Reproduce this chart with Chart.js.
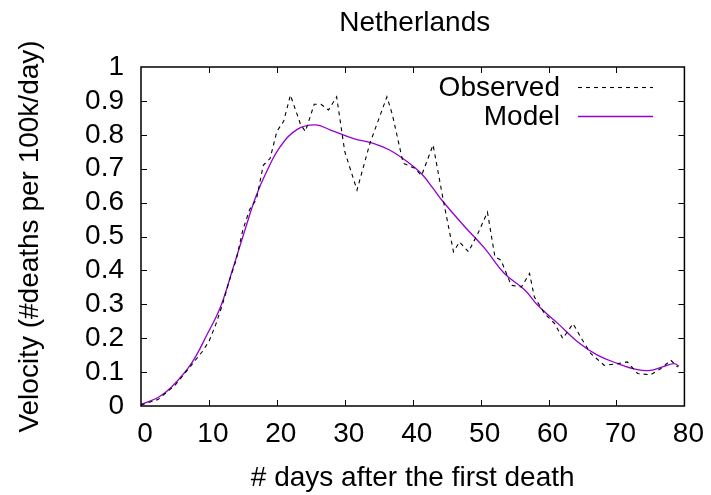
<!DOCTYPE html>
<html>
<head>
<meta charset="utf-8">
<script src="https://cdn.jsdelivr.net/npm/chart.js@4/dist/chart.umd.min.js"></script>
<style>
  html, body { margin: 0; padding: 0; background: #fff; }
  #wrap { width: 711px; height: 495px; }
</style>
</head>
<body>
<div id="wrap"><canvas id="chart"></canvas></div>
<script>
  // Daily death velocity, Netherlands (days after the first death)
  const chartTitle = "Netherlands";
  const observedDays = [0, 2.5, 5, 7, 9, 10, 11, 12, 13, 14, 15, 16, 17, 18, 19, 20, 21, 22, 23.5, 24.2,
    25.5, 26.5, 27.6, 28.8, 30, 31.8, 33.7, 36.2, 37, 38.6, 40.3, 41.3, 43, 44.5, 46, 46.9, 48.2, 49.6,
    51, 52.1, 53, 54.5, 56, 57.2, 57.9, 59.4, 60.9, 62.1, 63.6, 65, 66.2, 68.2, 70.2, 71.6, 73.1, 75,
    76.5, 78, 79];
  const observedValues = [0.003, 0.019, 0.061, 0.11, 0.16, 0.19, 0.24, 0.30, 0.37, 0.43, 0.52, 0.58, 0.61,
    0.71, 0.73, 0.81, 0.84, 0.917, 0.83, 0.81, 0.89, 0.89, 0.873, 0.912, 0.75, 0.637, 0.775, 0.912, 0.86,
    0.716, 0.701, 0.68, 0.77, 0.607, 0.455, 0.484, 0.455, 0.509, 0.572, 0.44, 0.43, 0.356, 0.351, 0.391,
    0.322, 0.273, 0.243, 0.199, 0.243, 0.194, 0.155, 0.12, 0.125, 0.13, 0.096, 0.092, 0.11, 0.135, 0.115];
  const modelDays = [0, 2.5, 4.5, 7.4, 9.8, 11.7, 13.6, 15.3, 16.9, 18.6, 20.5, 23, 25.7, 27.9, 31.3,
    34.2, 36.6, 39.5, 41.3, 43, 44.3, 47.7, 50.6, 53.5, 56.5, 58.4, 61.4, 64.3, 67.2, 70.2, 73.1, 75,
    77, 78.5, 79.2];
  const modelValues = [0.005, 0.025, 0.056, 0.125, 0.214, 0.292, 0.41, 0.519, 0.617, 0.696, 0.765,
    0.816, 0.829, 0.814, 0.789, 0.775, 0.755, 0.716, 0.685, 0.642, 0.607, 0.528, 0.465, 0.391, 0.342,
    0.297, 0.243, 0.189, 0.150, 0.125, 0.107, 0.105, 0.117, 0.125, 0.117];
  const xTicks = [0, 10, 20, 30, 40, 50, 60, 70, 80];
  const yTicks = [0, 0.1, 0.2, 0.3, 0.4, 0.5, 0.6, 0.7, 0.8, 0.9, 1];

  const FONT = "'Liberation Sans', Arial, Helvetica, sans-serif";
  const FSIZE = 28;

  function pairs(xs, ys) {
    return xs.map(function(x, i) { return { x: x, y: ys[i] }; });
  }

  // frame, inward ticks on all four sides, title and key (gnuplot look)
  const framePlugin = {
    id: "frame",
    afterDatasetsDraw(chart) {
      const ctx = chart.ctx;
      const a = chart.chartArea;
      const xs = chart.scales.x, ys = chart.scales.y;
      const tl = 6;
      ctx.save();
      ctx.strokeStyle = "#000";
      ctx.lineWidth = 1;
      ctx.beginPath();
      xTicks.slice(1, -1).forEach(function(v) {
        const px = Math.round(xs.getPixelForValue(v)) + 0.5;
        ctx.moveTo(px, a.bottom); ctx.lineTo(px, a.bottom - tl);
        ctx.moveTo(px, a.top); ctx.lineTo(px, a.top + tl);
      });
      yTicks.slice(1, -1).forEach(function(v) {
        const py = Math.round(ys.getPixelForValue(v)) + 0.5;
        ctx.moveTo(a.left, py); ctx.lineTo(a.left + tl, py);
        ctx.moveTo(a.right, py); ctx.lineTo(a.right - tl, py);
      });
      ctx.stroke();
      ctx.lineWidth = 1.5;
      ctx.strokeRect(a.left, a.top, a.right - a.left, a.bottom - a.top);

      // title
      ctx.fillStyle = "#000";
      ctx.font = FSIZE + "px " + FONT;
      ctx.textAlign = "center";
      ctx.textBaseline = "middle";
      ctx.fillText(chartTitle, (a.left + a.right) / 2 + 2, 23);

      // key
      const keyX = 560, lineX0 = 578, lineX1 = 653;
      const rows = [87, 116];
      ctx.textAlign = "right";
      chart.data.datasets.forEach(function(ds, i) {
        ctx.fillStyle = "#000";
        ctx.fillText(ds.label, keyX, rows[i] + 1);
        ctx.beginPath();
        ctx.strokeStyle = ds.borderColor;
        ctx.lineWidth = ds.borderWidth;
        ctx.setLineDash(ds.borderDash || []);
        ctx.moveTo(lineX0, rows[i] + 0.5);
        ctx.lineTo(lineX1, rows[i] + 0.5);
        ctx.stroke();
      });
      ctx.restore();
    }
  };

  new Chart(document.getElementById("chart"), {
    type: "line",
    data: {
      datasets: [
        {
          label: "Observed",
          data: pairs(observedDays, observedValues),
          borderColor: "#000",
          borderWidth: 1.1,
          borderDash: [4, 4],
          pointRadius: 0,
          tension: 0,
          fill: false
        },
        {
          label: "Model",
          data: pairs(modelDays, modelValues),
          borderColor: "#9400d3",
          borderWidth: 1.3,
          pointRadius: 0,
          tension: 0.4,
          fill: false
        }
      ]
    },
    options: {
      responsive: true, maintainAspectRatio: false, animation: false,
      layout: { padding: { top: 67, right: 24, left: 0, bottom: 0 } },
      plugins: { legend: { display: false }, tooltip: { enabled: false }, title: { display: false } },
      scales: {
        x: {
          type: "linear", min: 0, max: 80,
          afterFit: function(s) { s.height = 89; },
          afterBuildTicks: function(s) { s.ticks = xTicks.map(function(v) { return { value: v }; }); },
          grid: { display: false, drawTicks: false },
          border: { display: false },
          ticks: {
            color: "#000", font: { family: FONT, size: FSIZE }, padding: 11, labelOffset: 4,
            maxRotation: 0, autoSkip: false
          },
          title: {
            display: true, text: "# days after the first death", color: "#000",
            font: { family: FONT, size: FSIZE }, padding: { top: 0, bottom: 0 }
          }
        },
        y: {
          min: 0, max: 1,
          afterFit: function(s) { s.width = 141; },
          afterBuildTicks: function(s) { s.ticks = yTicks.map(function(v) { return { value: v }; }); },
          grid: { display: false, drawTicks: false },
          border: { display: false },
          ticks: {
            color: "#000", font: { family: FONT, size: FSIZE }, padding: 17, autoSkip: false,
            callback: function(v) { return String(Math.round(v * 10) / 10); }
          },
          title: {
            display: true, text: "Velocity (#deaths per 100k/day)", color: "#000",
            font: { family: FONT, size: FSIZE }, padding: { top: 13, bottom: 0 }
          }
        }
      }
    },
    plugins: [framePlugin]
  });
</script>
</body>
</html>
